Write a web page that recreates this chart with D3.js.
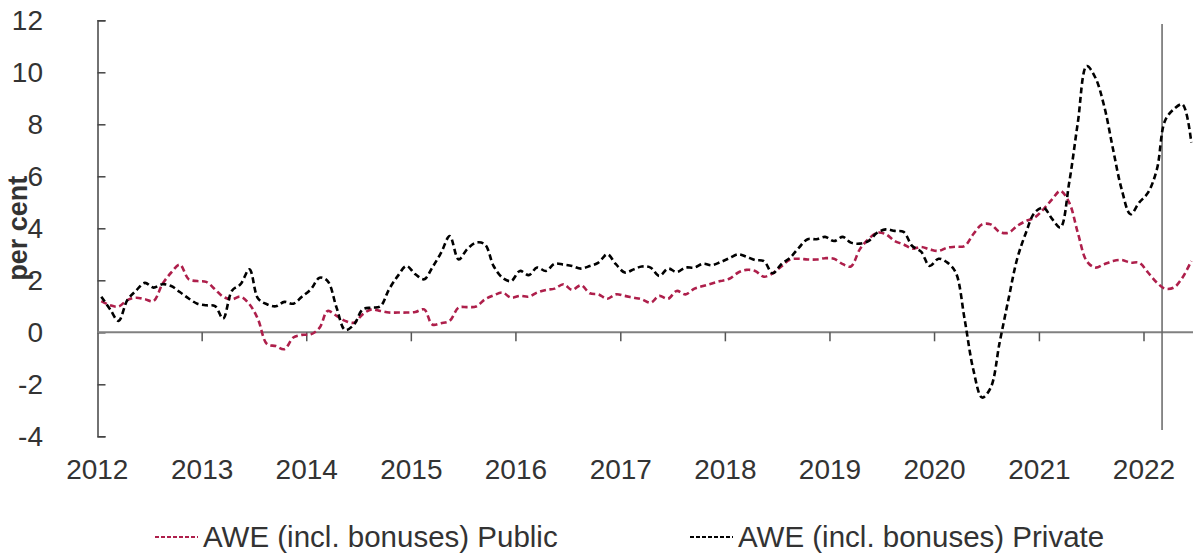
<!DOCTYPE html>
<html>
<head>
<meta charset="utf-8">
<script src="https://cdn.jsdelivr.net/npm/d3@7"></script>
<style>
	body { margin: 0; background: #fff; }
	text { font-family: "Liberation Sans", Arial, sans-serif; fill: #333; }
</style>
</head>
<body>
<div class="chart"></div>
<script>
// monthly, Jan 2012 to Jun 2022
var startMonth = [2012, 0];

var publicAwe = [
	1.2, 1.04, 0.99, 1.24, 1.33, 1.27, 1.2, 1.85, 2.3, 2.6, 2.04, 1.97,
	1.94, 1.65, 1.37, 1.27, 1.37, 1.08, 0.5, -0.45, -0.53, -0.65, -0.2, -0.1,
	-0.08, 0.18, 0.82, 0.63, 0.44, 0.37, 0.69, 0.88, 0.82, 0.76, 0.76, 0.76,
	0.78, 0.88, 0.3, 0.35, 0.44, 0.95, 0.97, 0.99, 1.27, 1.42, 1.53, 1.33,
	1.4, 1.37, 1.53, 1.63, 1.68, 1.85, 1.63, 1.81, 1.5, 1.46, 1.29, 1.46,
	1.4, 1.33, 1.27, 1.14, 1.4, 1.29, 1.59, 1.46, 1.68, 1.78, 1.88, 1.97,
	2.06, 2.3, 2.4, 2.36, 2.14, 2.27, 2.53, 2.8, 2.83, 2.8, 2.8, 2.85,
	2.83, 2.62, 2.53, 3.19, 3.58, 3.83, 3.77, 3.51, 3.38, 3.22, 3.28, 3.19,
	3.13, 3.26, 3.29, 3.32, 3.77, 4.15, 4.15, 3.86, 3.83, 4.09, 4.28, 4.41,
	4.73, 5.12, 5.44, 4.99, 3.83, 2.74, 2.49, 2.62, 2.74, 2.78, 2.68, 2.68,
	2.3, 1.91, 1.68, 1.72, 2.1, 2.74
];

var privateAwe = [
	1.37, 0.88, 0.44, 1.24, 1.6, 1.9, 1.72, 1.85, 1.78, 1.55, 1.3, 1.1,
	1.04, 1.01, 0.53, 1.6, 1.85, 2.42, 1.3, 1.08, 1.0, 1.17, 1.1, 1.37,
	1.65, 2.1, 1.97, 0.95, 0.09, 0.3, 0.88, 0.95, 1.0, 1.65, 2.17, 2.55,
	2.23, 2.04, 2.49, 3.06, 3.7, 2.8, 3.2, 3.45, 3.38, 2.55, 2.1, 1.97,
	2.36, 2.2, 2.49, 2.36, 2.64, 2.6, 2.55, 2.45, 2.55, 2.68, 3.0, 2.62,
	2.3, 2.42, 2.53, 2.49, 2.17, 2.45, 2.32, 2.49, 2.49, 2.64, 2.58, 2.7,
	2.85, 3.0, 2.91, 2.78, 2.74, 2.27, 2.62, 2.87, 3.26, 3.58, 3.58, 3.67,
	3.51, 3.67, 3.45, 3.41, 3.51, 3.83, 3.96, 3.9, 3.86, 3.32, 3.1, 2.55,
	2.83, 2.68, 2.3, 0.5, -1.42, -2.51, -2.13, -0.4, 1.27, 2.81, 3.83, 4.6,
	4.79, 4.35, 4.03, 5.76, 8.06, 10.24, 9.8, 8.7, 7.04, 5.5, 4.54, 4.99,
	5.37, 6.27, 8.13, 8.58, 8.77, 7.3
];

var seriesNames = ["AWE (incl. bonuses) Public", "AWE (incl. bonuses) Private"];
var seriesColors = ["#ae1f4b", "#000"];
var yearTicks = d3.range(2012, 2023);
var yTicks = d3.range(-4, 13, 2);
var markerDate = new Date(2022, 2, 5);

var width = 1193, height = 553;

var svg = d3.select(".chart").append("svg")
	.attr("width", width)
	.attr("height", height);

var x = d3.scaleTime()
	.domain([new Date(2012, 0, 1), new Date(2022, 0, 1)])
	.range([97.3, 1144]);

var y = d3.scaleLinear()
	.domain([-4, 12])
	.range([436.3, 20.3]);

function monthDate(i) {
	return new Date(startMonth[0], startMonth[1] + i, 15);
}

// y axis, ticks pointing into the plot
var yAxis = svg.append("g")
	.attr("transform", "translate(97.5,0)")
	.call(d3.axisRight(y).tickValues(yTicks).tickSize(8).tickFormat(""));
yAxis.select(".domain").attr("stroke", "#444").attr("stroke-width", 1.5);
yAxis.selectAll(".tick line").attr("stroke", "#444").attr("stroke-width", 1.5);

svg.append("g")
	.selectAll("text")
	.data(yTicks)
	.enter().append("text")
	.attr("x", 43)
	.attr("y", function(d) { return y(d); })
	.attr("dy", "0.35em")
	.attr("text-anchor", "end")
	.style("font-size", "28px")
	.text(function(d) { return d; });

svg.append("text")
	.attr("transform", "translate(27," + y(4) + ")rotate(-90)")
	.attr("text-anchor", "middle")
	.style("font-size", "27px")
	.style("font-weight", "bold")
	.text("per cent");

// x axis along zero
svg.append("line")
	.attr("x1", 97.3).attr("x2", width)
	.attr("y1", y(0)).attr("y2", y(0))
	.attr("stroke", "#808080")
	.attr("stroke-width", 2);

svg.append("g")
	.selectAll("line")
	.data(yearTicks.slice(1))
	.enter().append("line")
	.attr("x1", function(d) { return x(new Date(d, 0, 1)); })
	.attr("x2", function(d) { return x(new Date(d, 0, 1)); })
	.attr("y1", y(0))
	.attr("y2", y(0) + 9)
	.attr("stroke", "#555")
	.attr("stroke-width", 1.5);

svg.append("g")
	.selectAll("text")
	.data(yearTicks)
	.enter().append("text")
	.attr("x", function(d) { return x(new Date(d, 0, 1)); })
	.attr("y", 479)
	.attr("text-anchor", "middle")
	.style("font-size", "28px")
	.text(function(d) { return d; });

// marker line
svg.append("line")
	.attr("x1", x(markerDate)).attr("x2", x(markerDate))
	.attr("y1", 24).attr("y2", 430)
	.attr("stroke", "#666")
	.attr("stroke-width", 1.5);

var line = d3.line()
	.x(function(d, i) { return x(monthDate(i)); })
	.y(function(d) { return y(d); })
	.curve(d3.curveCatmullRom);

[publicAwe, privateAwe].forEach(function(values, k) {
	svg.append("path")
		.datum(values)
		.attr("fill", "none")
		.attr("stroke", seriesColors[k])
		.attr("stroke-width", 2.6)
		.attr("stroke-dasharray", "6,3.5")
		.attr("d", line);
});

// legend
var legendX = [155, 690];
var legend = svg.append("g")
	.selectAll("g")
	.data(seriesNames)
	.enter().append("g")
	.attr("transform", function(d, i) { return "translate(" + legendX[i] + ",537)"; });

legend.append("line")
	.attr("x1", 0).attr("x2", 43)
	.attr("stroke", function(d, i) { return seriesColors[i]; })
	.attr("stroke-width", 2.2)
	.attr("stroke-dasharray", "4,2");

legend.append("text")
	.attr("x", 48)
	.attr("dy", "0.35em")
	.style("font-size", "29.5px")
	.text(function(d) { return d; });
</script>
</body>
</html>
